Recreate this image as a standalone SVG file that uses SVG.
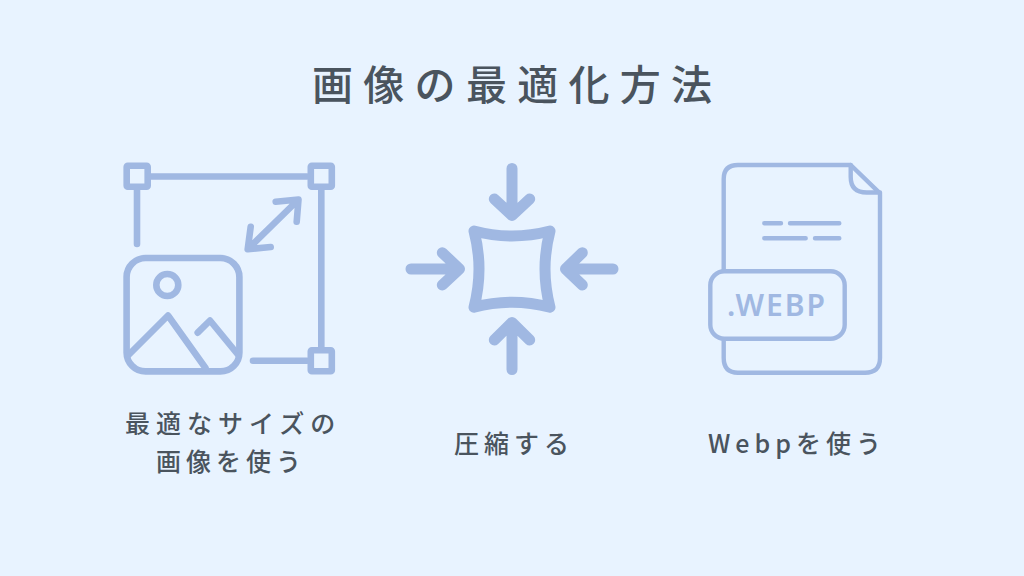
<svg xmlns="http://www.w3.org/2000/svg" width="1024" height="576" viewBox="0 0 1024 576">
<style>
.bg{fill:#e8f3ff}
.i{fill:none;stroke:#a0b8e2;stroke-width:6.6;stroke-linecap:round;stroke-linejoin:round}
.c{stroke-width:11}
.d{stroke-width:4.4}
.t{font-family:"Noto Sans CJK JP","Noto Sans",sans-serif;fill:#4a545e;font-weight:500}
.h{font-size:41px;letter-spacing:10.3px}
.l{font-size:25px;letter-spacing:6px}
.l2{letter-spacing:5px}
.w{font-family:"Noto Sans","Liberation Sans",sans-serif;font-size:30px;font-weight:600;fill:#a0b8e2;letter-spacing:2px}
</style>
<rect class="bg" width="1024" height="576"/>
<text class="t h" id="title" x="312" y="100">画像の最適化方法</text>
<g id="resize-icon" class="i">
<rect x="126.700" y="165.800" width="21" height="21" rx="1"/>
<rect x="310.800" y="165.800" width="21" height="21" rx="1"/>
<rect x="310.800" y="350.300" width="21" height="21" rx="1"/>
<path d="M150 176.500H307M137 190V244M321.300 190V347M253 360.700H307"/>
<rect x="126.600" y="258" width="112.800" height="113.400" rx="19"/>
<circle cx="167.300" cy="285" r="11"/>
<path d="M128.500 355L168 315.500L205.500 368M197.700 332.700L210 320.500L238.300 355"/>
<path d="M251 246L297 201M275.700 201.700L298.500 199.500L296.700 221.700M250.700 226.700L247.700 249.300L270.700 247"/>
</g>
<g id="compress-icon" class="i c">
<path d="M512 168.500V214M494.300 199L512 215.500L529.700 199"/>
<path d="M512 369.500V324M494.300 340L512 322.500L529.700 340"/>
<path d="M411 269H458M442.300 252.700L459.500 269L442.300 285"/>
<path d="M613 269H567M582.300 252.700L565.500 269L582.300 285"/>
<path d="M474 231Q512 241 550 231Q540 269 550 307.300Q512 297 474 307.300Q484 269 474 231Z"/>
</g>
<g id="webp-icon">
<g class="i d">
<path d="M723.700 270V179Q723.700 165 738 165H850.700L880 193.300V358Q880 372.700 865 372.700H738Q723.700 372.700 723.700 358V340.700"/>
<path d="M850.700 165V177Q850.700 192.500 866.700 192.500H880"/>
<path d="M764.300 223.300H781M790 223.300H839.300M764.300 238.300H805.700M815 238.300H839.300"/>
<rect x="710.300" y="271.300" width="134.400" height="67.400" rx="14"/>
</g>
<text class="w" x="727" y="316">.WEBP</text>
</g>
<g id="labels">
<text class="t l" id="label-1a" x="125" y="433">最適なサイズの</text>
<text class="t l l2" id="label-1b" x="156" y="471">画像を使う</text>
<text class="t l l2" id="label-2" x="454" y="453">圧縮する</text>
<text class="t l l2" id="label-3" x="708" y="453">Webpを使う</text>
</g>
</svg>
